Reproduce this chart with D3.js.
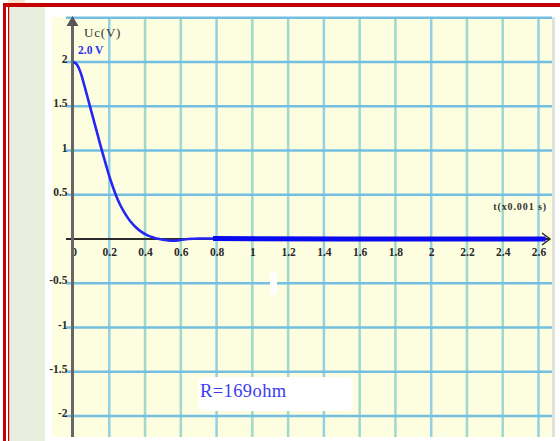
<!DOCTYPE html>
<html>
<head>
<meta charset="utf-8">
<script src="https://cdn.jsdelivr.net/npm/d3@7"></script>
<style>
  body { margin: 0; background: #fff; }
  text { font-family: "Liberation Serif", "Times New Roman", serif; }
</style>
</head>
<body>
<svg id="chart"></svg>
<script>
// Tick values
const xTicks = [0, 0.2, 0.4, 0.6, 0.8, 1, 1.2, 1.4, 1.6, 1.8, 2, 2.2, 2.4, 2.6];
const yTicks = [2, 1.5, 1, 0.5, -0.5, -1, -1.5, -2];
const yGrid = [2.5, 2, 1.5, 1, 0.5, -0.5, -1, -1.5, -2];

// Capacitor voltage Uc(V) against t (x 0.001 s), estimated from the curve
const tValues = [0, 0.02, 0.04, 0.06, 0.08, 0.10, 0.12, 0.14, 0.16, 0.18, 0.20, 0.22,
                 0.24, 0.26, 0.28, 0.30, 0.32, 0.35, 0.38, 0.42, 0.45, 0.48, 0.52,
                 0.56, 0.60, 0.64, 0.70, 0.78];
const ucValues = [2.00, 1.97, 1.88, 1.74, 1.59, 1.44, 1.29, 1.14, 0.99, 0.85, 0.71, 0.59,
                  0.48, 0.39, 0.315, 0.25, 0.195, 0.13, 0.08, 0.035, 0.015, 0.0, -0.014,
                  -0.02, -0.012, 0.0, 0.005, 0.005];
// flat tail of the trace after it has settled
const tailT = [0.78, 1.5, 2.64];
const tailUc = [0.005, 0, 0];

const width = 560;
const height = 441;

let svg = d3.select('#chart')
    .attr('width', width)
    .attr('height', height);

// page frame: red borders, side panel, chart paper
svg.append('rect').attr('x', 8).attr('y', 0).attr('width', 17).attr('height', 3).attr('fill', '#fbe3cf');
svg.append('rect').attr('x', 3).attr('y', 3).attr('width', 557).attr('height', 4).attr('fill', '#c40000');
svg.append('rect').attr('x', 3).attr('y', 3).attr('width', 3).attr('height', 438).attr('fill', '#c40000');
svg.append('rect').attr('x', 8).attr('y', 3).attr('width', 1.5).attr('height', 438).attr('fill', '#c40000');
svg.append('rect').attr('x', 9.5).attr('y', 7).attr('width', 35.5).attr('height', 434).attr('fill', '#e9efdf');
svg.append('rect').attr('x', 552).attr('y', 17).attr('width', 3).attr('height', 420).attr('fill', '#e2e2dc');
svg.append('rect').attr('x', 52).attr('y', 17).attr('width', 500).attr('height', 420).attr('fill', '#fdfde0');

let x = d3.scaleLinear()
    .domain([0, 2.6])
    .range([73.5, 538.5]);

let y = d3.scaleLinear()
    .domain([-2, 2])
    .range([416, 62]);

// grid
svg.append('g')
  .selectAll('line')
  .data(xTicks.filter(d => d !== 0))
  .enter()
  .append('line')
    .attr('x1', d => x(d)).attr('x2', d => x(d))
    .attr('y1', 17).attr('y2', 437)
    .attr('stroke', (d, i) => i % 3 === 0 ? '#93d0e4' : '#9fd9cc')
    .attr('stroke-width', 2.5);

svg.append('g')
  .selectAll('line')
  .data(yGrid)
  .enter()
  .append('line')
    .attr('x1', 66).attr('x2', 552)
    .attr('y1', d => y(d)).attr('y2', d => y(d))
    .attr('stroke', '#72bfe2')
    .attr('stroke-width', 2.5);

// x axis
let xAxis = svg.append('g')
    .attr('transform', 'translate(0,' + y(0) + ')')
    .call(d3.axisBottom(x).tickValues(xTicks).tickSize(0).tickPadding(9).tickFormat(d => String(d)));
xAxis.select('.domain').remove();
xAxis.selectAll('text')
    .attr('font-size', 11.5)
    .attr('font-weight', 'bold')
    .attr('font-family', '"Liberation Serif", serif')
    .attr('fill', '#2a2a2a');

svg.append('line')
    .attr('x1', 66).attr('x2', 549)
    .attr('y1', y(0)).attr('y2', y(0))
    .attr('stroke', '#2b2b2b').attr('stroke-width', 2);
svg.append('path')
    .attr('d', 'M542,233 L550,' + y(0) + ' L542,245')
    .attr('fill', 'none').attr('stroke', '#2b2b2b').attr('stroke-width', 1.5);

// y axis
let yAxis = svg.append('g')
    .attr('transform', 'translate(' + x(0) + ',0)')
    .call(d3.axisLeft(y).tickValues(yTicks).tickSize(0).tickPadding(6).tickFormat(d => String(d)));
yAxis.select('.domain').remove();
yAxis.selectAll('text')
    .attr('dy', '0.05em')
    .attr('font-size', 11.5)
    .attr('font-weight', 'bold')
    .attr('font-family', '"Liberation Serif", serif')
    .attr('fill', '#2a2a2a');

svg.append('line')
    .attr('x1', x(0) - 1).attr('x2', x(0) - 1)
    .attr('y1', 22).attr('y2', 437)
    .attr('stroke', '#666').attr('stroke-width', 3);
svg.append('path')
    .attr('d', 'M' + (x(0) - 1) + ',16 L' + (x(0) - 7) + ',26 L' + (x(0) + 5) + ',26 Z')
    .attr('fill', '#555');

// labels
svg.append('text')
    .attr('x', 84).attr('y', 37)
    .attr('font-size', 13)
    .attr('letter-spacing', 0.8)
    .attr('fill', '#333')
    .text('Uc(V)');

svg.append('text')
    .attr('x', 78).attr('y', 54)
    .attr('font-size', 11.5)
    .attr('font-weight', 'bold')
    .attr('fill', '#2f2ff0')
    .text('2.0 V');

svg.append('text')
    .attr('x', 547).attr('y', 210)
    .attr('text-anchor', 'end')
    .attr('font-size', 10)
    .attr('font-weight', 'bold')
    .attr('letter-spacing', 0.9)
    .attr('fill', '#333')
    .text('t(x0.001 s)');

// white patches
svg.append('rect')
    .attr('x', 270).attr('y', 271).attr('width', 7).attr('height', 24).attr('rx', 3)
    .attr('fill', '#ffffff');
svg.append('rect')
    .attr('x', 198).attr('y', 377).attr('width', 155).attr('height', 34).attr('rx', 6)
    .attr('fill', '#ffffff');
svg.append('text')
    .attr('x', 200).attr('y', 397)
    .attr('font-size', 18.5)
    .attr('letter-spacing', 0.4)
    .attr('fill', '#3b3bef')
    .text('R=169ohm');

// the trace
let line = d3.line()
    .x(d => x(d[0]))
    .y(d => y(d[1]))
    .curve(d3.curveMonotoneX);

svg.append('path')
    .datum(tValues.map((t, i) => [t, ucValues[i]]))
    .attr('d', line)
    .attr('fill', 'none')
    .attr('stroke', '#2525f5')
    .attr('stroke-width', 2.6);

svg.append('path')
    .datum(tailT.map((t, i) => [t, tailUc[i]]))
    .attr('d', line)
    .attr('fill', 'none')
    .attr('stroke', '#0a0af0')
    .attr('stroke-width', 5);
</script>
</body>
</html>
